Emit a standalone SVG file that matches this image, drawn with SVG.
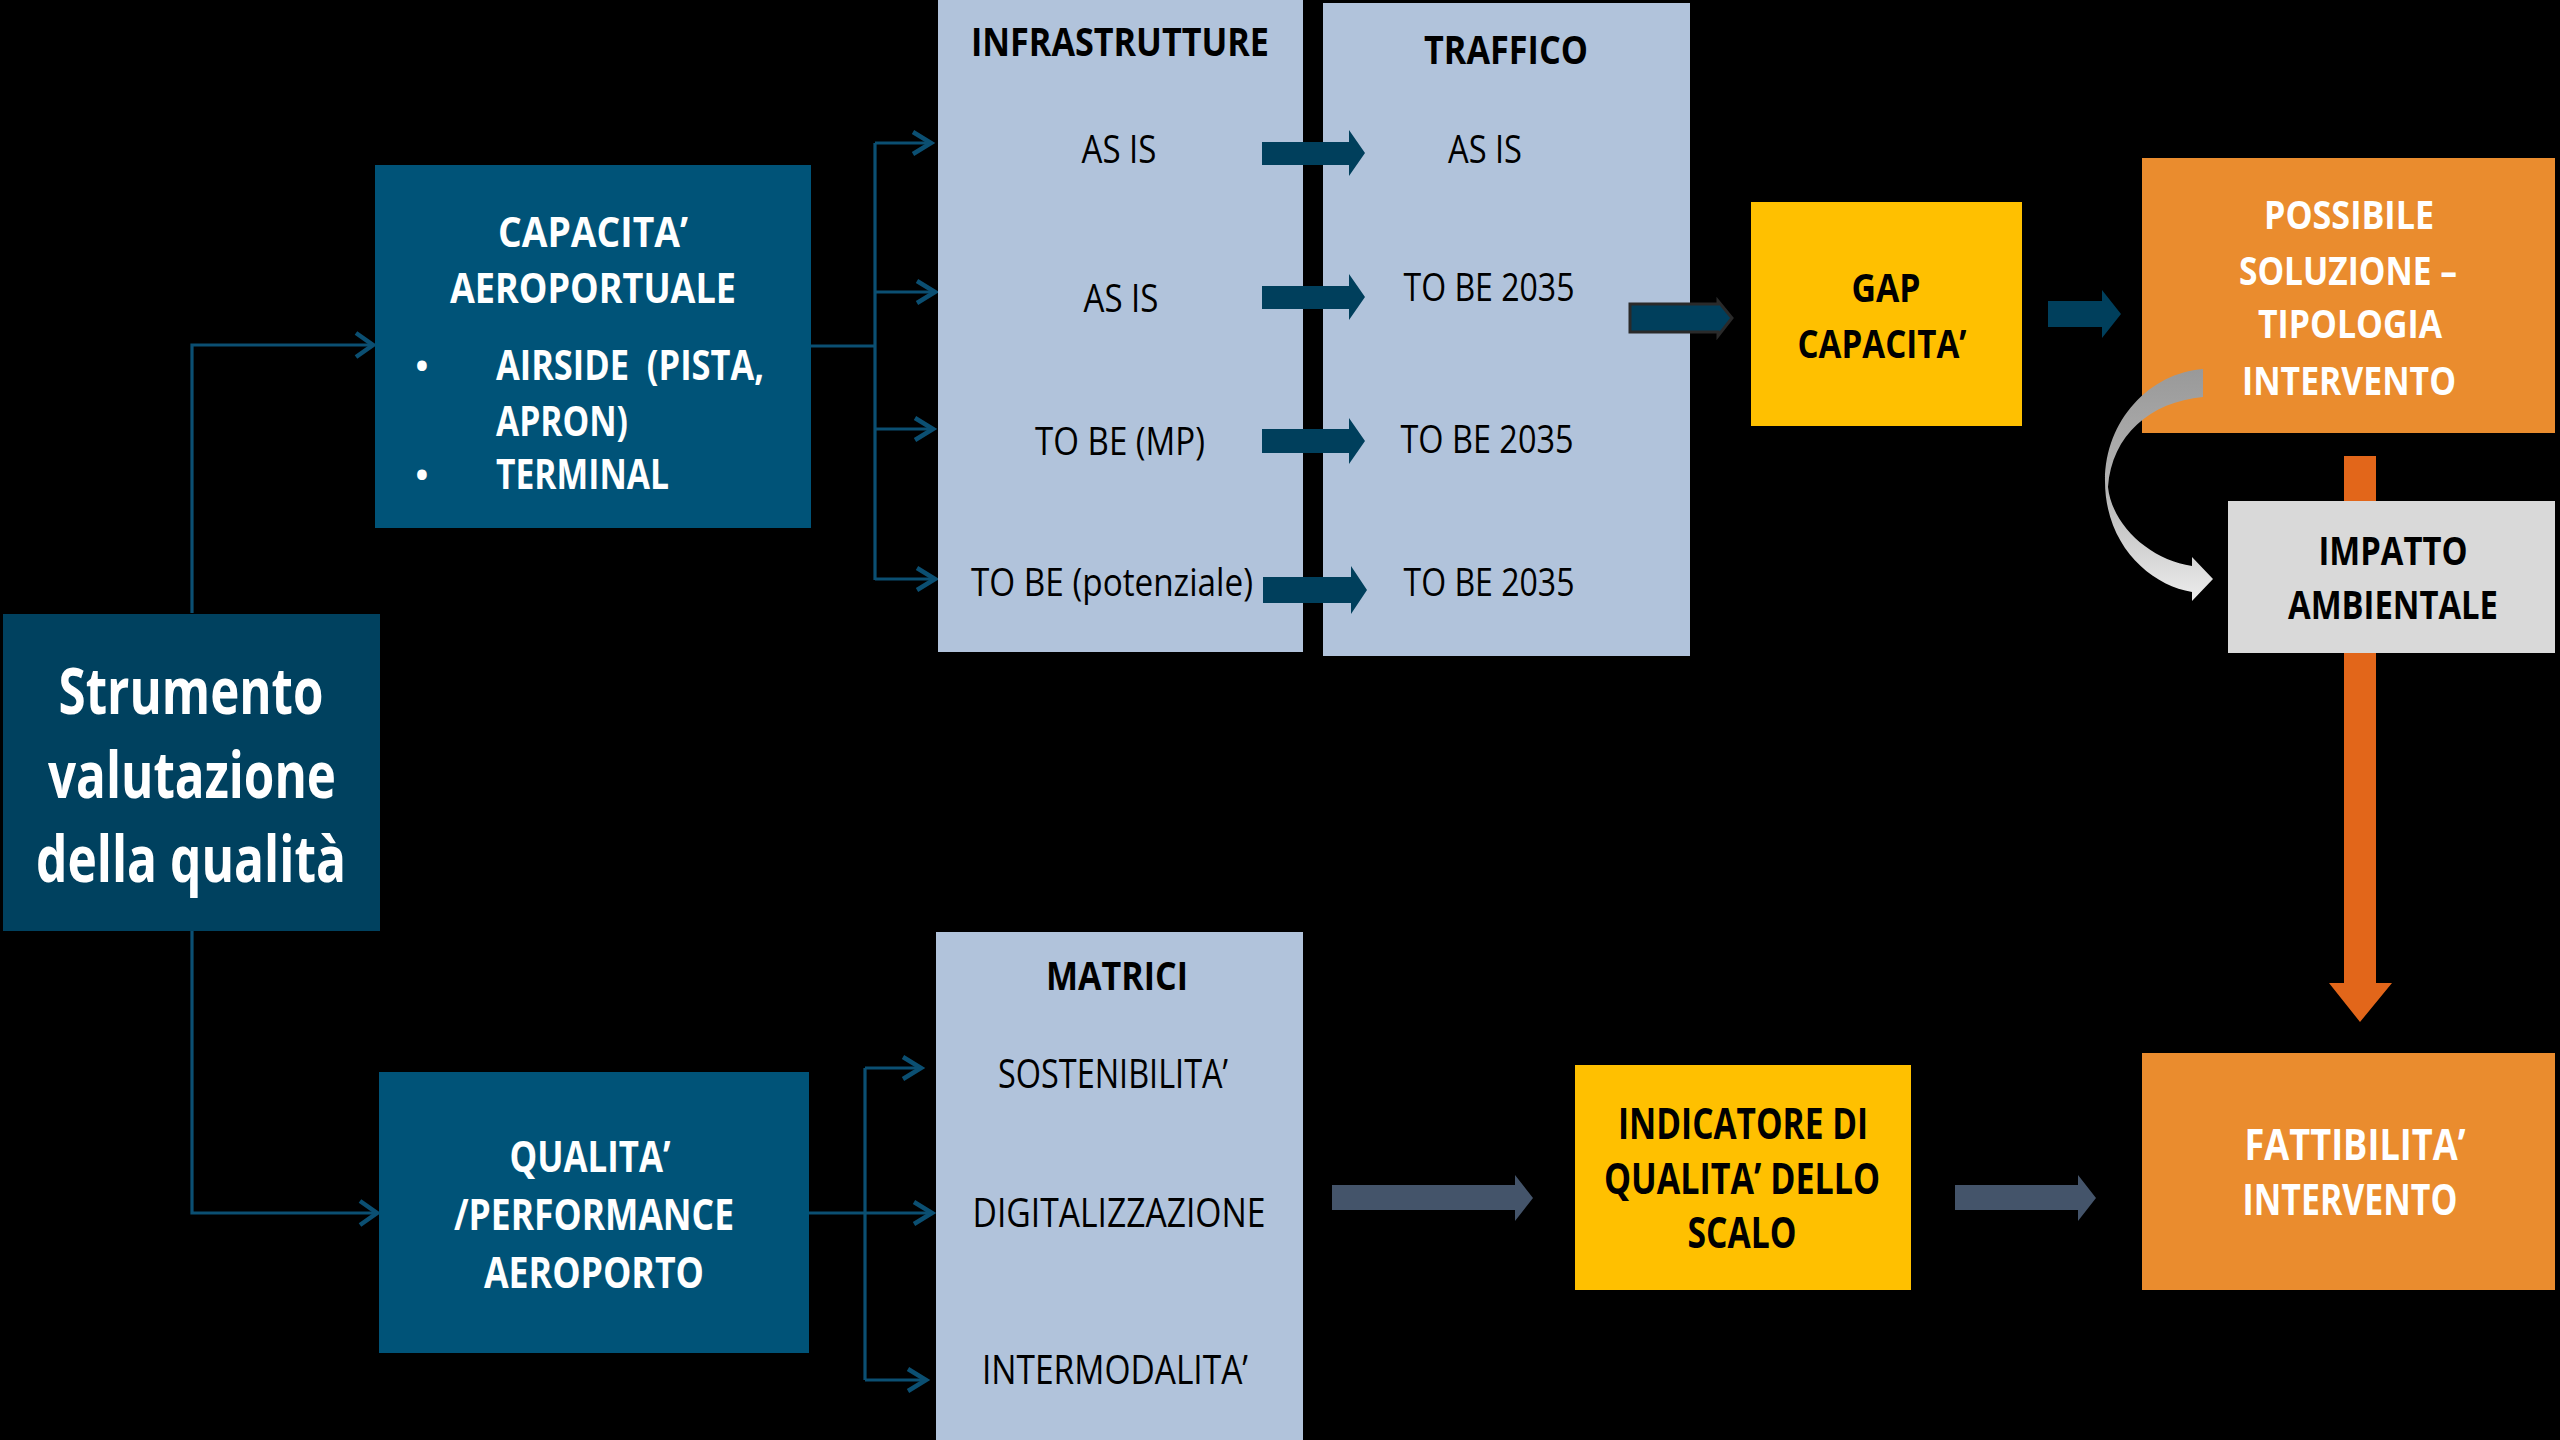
<svg xmlns="http://www.w3.org/2000/svg" width="2560" height="1440" viewBox="0 0 2560 1440">
<defs>
<style>
text{font-family:"Open Sans","Liberation Sans",sans-serif;text-anchor:middle}
.b{font-weight:700}
.r{font-weight:400}
.w{fill:#ffffff}
.k{fill:#000000}
.line{fill:none;stroke:#0B4F72;stroke-width:3.2}
.chev{fill:none;stroke:#0B4F72;stroke-width:4.5;stroke-linejoin:miter}
.darr{fill:#003F5C}
.garr{fill:#44546A}
</style>
<linearGradient id="gcurve" x1="0" y1="0" x2="0" y2="1">
<stop offset="0" stop-color="#999999"/>
<stop offset="0.5" stop-color="#B3B3B3"/>
<stop offset="1" stop-color="#EDEDED"/>
</linearGradient>
</defs>
<rect width="2560" height="1440" fill="#000000"/>

<g id="connectors">
<path class="line" d="M192 613 V345 H372"/>
<path class="chev" d="M356 333 L373 345 L356 357"/>
<path class="line" d="M192 931 V1213 H376"/>
<path class="chev" d="M360 1201 L377 1213 L360 1225"/>
<path class="line" d="M811 346 H875 M875 143 V580 M875 143 H930 M875 292 H934 M875 429 H932 M875 579 H934"/>
<path class="chev" d="M913 132 L931 143 L913 154 M917 281 L935 292 L917 303 M915 418 L933 429 L915 440 M917 568 L935 579 L917 590"/>
<path class="line" d="M809 1213 H931 M865 1068 V1380 M865 1068 H920 M865 1380 H925"/>
<path class="chev" d="M903 1057 L921 1068 L903 1079 M914 1202 L932 1213 L914 1224 M908 1369 L926 1380 L908 1391"/>
</g>

<g id="n-infrastrutture">
<rect x="938" y="0" width="365" height="652" fill="#B1C3DB"/>
<text class="b k" x="1120" y="56" font-size="40" textLength="298" lengthAdjust="spacingAndGlyphs">INFRASTRUTTURE</text>
<text class="r k" x="1119" y="163" font-size="39" textLength="75" lengthAdjust="spacingAndGlyphs">AS IS</text>
<text class="r k" x="1121" y="312" font-size="39" textLength="75" lengthAdjust="spacingAndGlyphs">AS IS</text>
<text class="r k" x="1120" y="455" font-size="39" textLength="170" lengthAdjust="spacingAndGlyphs">TO BE (MP)</text>
<text class="r k" x="1112" y="596" font-size="39" textLength="282" lengthAdjust="spacingAndGlyphs">TO BE (potenziale)</text>
</g>

<g id="n-traffico">
<rect x="1323" y="3" width="367" height="653" fill="#B1C3DB"/>
<text class="b k" x="1506" y="64" font-size="40" textLength="164" lengthAdjust="spacingAndGlyphs">TRAFFICO</text>
<text class="r k" x="1485" y="163" font-size="39" textLength="74" lengthAdjust="spacingAndGlyphs">AS IS</text>
<text class="r k" x="1489" y="301" font-size="39" textLength="171" lengthAdjust="spacingAndGlyphs">TO BE 2035</text>
<text class="r k" x="1487" y="453" font-size="39" textLength="173" lengthAdjust="spacingAndGlyphs">TO BE 2035</text>
<text class="r k" x="1489" y="596" font-size="39" textLength="171" lengthAdjust="spacingAndGlyphs">TO BE 2035</text>
</g>

<g id="n-matrici">
<rect x="936" y="932" width="367" height="508" fill="#B1C3DB"/>
<text class="b k" x="1117" y="990" font-size="40" textLength="142" lengthAdjust="spacingAndGlyphs">MATRICI</text>
<text class="r k" x="1113" y="1088" font-size="40" textLength="230" lengthAdjust="spacingAndGlyphs">SOSTENIBILITA’</text>
<text class="r k" x="1119" y="1227" font-size="40" textLength="293" lengthAdjust="spacingAndGlyphs">DIGITALIZZAZIONE</text>
<text class="r k" x="1115" y="1384" font-size="40" textLength="266" lengthAdjust="spacingAndGlyphs">INTERMODALITA’</text>
</g>

<g id="block-arrows">
<polygon class="darr" points="1262,142 1349,142 1349,130 1365,153 1349,176 1349,165 1262,165"/>
<polygon class="darr" points="1262,286 1349,286 1349,274 1365,297 1349,320 1349,309 1262,309"/>
<polygon class="darr" points="1262,429 1349,429 1349,418 1365,441 1349,464 1349,453 1262,453"/>
<polygon class="darr" points="1263,577 1351,577 1351,566 1367,590 1351,614 1351,603 1263,603"/>
<polygon class="darr" stroke="#2a2a2a" stroke-width="3" points="1630,304 1718,304 1718,301 1732,318 1718,336 1718,332 1630,332"/>
<polygon class="darr" points="2048,301 2102,301 2102,290 2121,314 2102,338 2102,327 2048,327"/>
<polygon class="garr" points="1332,1185 1515,1185 1515,1175 1533,1198 1515,1221 1515,1210 1332,1210"/>
<polygon class="garr" points="1955,1185 2078,1185 2078,1175 2096,1198 2078,1221 2078,1210 1955,1210"/>
<polygon fill="#E2661A" points="2344,456 2376,456 2376,983 2392,983 2360,1022 2329,983 2344,983"/>
</g>

<g id="n-strumento">
<rect x="3" y="614" width="377" height="317" fill="#00415F"/>
<text class="b w" x="191" y="714" font-size="64" textLength="265" lengthAdjust="spacingAndGlyphs">Strumento</text>
<text class="b w" x="192" y="798" font-size="64" textLength="288" lengthAdjust="spacingAndGlyphs">valutazione</text>
<text class="b w" x="191" y="882" font-size="64" textLength="310" lengthAdjust="spacingAndGlyphs">della qualità</text>
</g>

<g id="n-capacita">
<rect x="375" y="165" width="436" height="363" fill="#005378"/>
<text class="b w" x="593" y="247" font-size="42" textLength="190" lengthAdjust="spacingAndGlyphs">CAPACITA’</text>
<text class="b w" x="593" y="303" font-size="42" textLength="286" lengthAdjust="spacingAndGlyphs">AEROPORTUALE</text>
<text class="b w" x="422" y="378" font-size="34">•</text>
<text class="b w" x="422" y="487" font-size="34">•</text>
<text class="b w" x="496" y="380" font-size="42" style="text-anchor:start" textLength="268" lengthAdjust="spacingAndGlyphs">AIRSIDE&#160; (PISTA,</text>
<text class="b w" x="496" y="436" font-size="42" style="text-anchor:start" textLength="132" lengthAdjust="spacingAndGlyphs">APRON)</text>
<text class="b w" x="496" y="489" font-size="42" style="text-anchor:start" textLength="173" lengthAdjust="spacingAndGlyphs">TERMINAL</text>
</g>

<g id="n-qualita">
<rect x="379" y="1072" width="430" height="281" fill="#005378"/>
<text class="b w" x="590" y="1172" font-size="43" textLength="161" lengthAdjust="spacingAndGlyphs">QUALITA’</text>
<text class="b w" x="594" y="1230" font-size="43" textLength="280" lengthAdjust="spacingAndGlyphs">/PERFORMANCE</text>
<text class="b w" x="594" y="1288" font-size="43" textLength="220" lengthAdjust="spacingAndGlyphs">AEROPORTO</text>
</g>

<g id="n-gap">
<rect x="1751" y="202" width="271" height="224" fill="#FFC000"/>
<text class="b k" x="1886" y="302" font-size="40" textLength="69" lengthAdjust="spacingAndGlyphs">GAP</text>
<text class="b k" x="1882" y="358" font-size="40" textLength="169" lengthAdjust="spacingAndGlyphs">CAPACITA’</text>
</g>

<g id="n-possibile">
<rect x="2142" y="158" width="413" height="275" fill="#EA8C2E"/>
<text class="b w" x="2349" y="229" font-size="40" textLength="170" lengthAdjust="spacingAndGlyphs">POSSIBILE</text>
<text class="b w" x="2348" y="285" font-size="40" textLength="218" lengthAdjust="spacingAndGlyphs">SOLUZIONE –</text>
<text class="b w" x="2350" y="338" font-size="40" textLength="184" lengthAdjust="spacingAndGlyphs">TIPOLOGIA</text>
<text class="b w" x="2349" y="395" font-size="40" textLength="214" lengthAdjust="spacingAndGlyphs">INTERVENTO</text>
</g>

<g id="curved-arrow">
<path fill="url(#gcurve)" d="M2203 369 C2150 373 2105 420 2105 481 C2105 545 2150 585 2192 592 L2192 601 L2213 579 L2192 557 L2192 566 C2150 560 2112 525 2108 487 C2112 435 2150 402 2203 397 Z"/>
</g>

<g id="n-impatto">
<rect x="2228" y="501" width="327" height="152" fill="#D9D9D9"/>
<text class="b k" x="2393" y="565" font-size="40" textLength="149" lengthAdjust="spacingAndGlyphs">IMPATTO</text>
<text class="b k" x="2393" y="619" font-size="40" textLength="210" lengthAdjust="spacingAndGlyphs">AMBIENTALE</text>
</g>

<g id="n-indicatore">
<rect x="1575" y="1065" width="336" height="225" fill="#FFC000"/>
<text class="b k" x="1743" y="1139" font-size="43" textLength="250" lengthAdjust="spacingAndGlyphs">INDICATORE DI</text>
<text class="b k" x="1742" y="1194" font-size="43" textLength="276" lengthAdjust="spacingAndGlyphs">QUALITA’ DELLO</text>
<text class="b k" x="1742" y="1248" font-size="43" textLength="109" lengthAdjust="spacingAndGlyphs">SCALO</text>
</g>

<g id="n-fattibilita">
<rect x="2142" y="1053" width="413" height="237" fill="#EA8C2E"/>
<text class="b w" x="2355" y="1160" font-size="43" textLength="221" lengthAdjust="spacingAndGlyphs">FATTIBILITA’</text>
<text class="b w" x="2350" y="1215" font-size="43" textLength="215" lengthAdjust="spacingAndGlyphs">INTERVENTO</text>
</g>
</svg>
